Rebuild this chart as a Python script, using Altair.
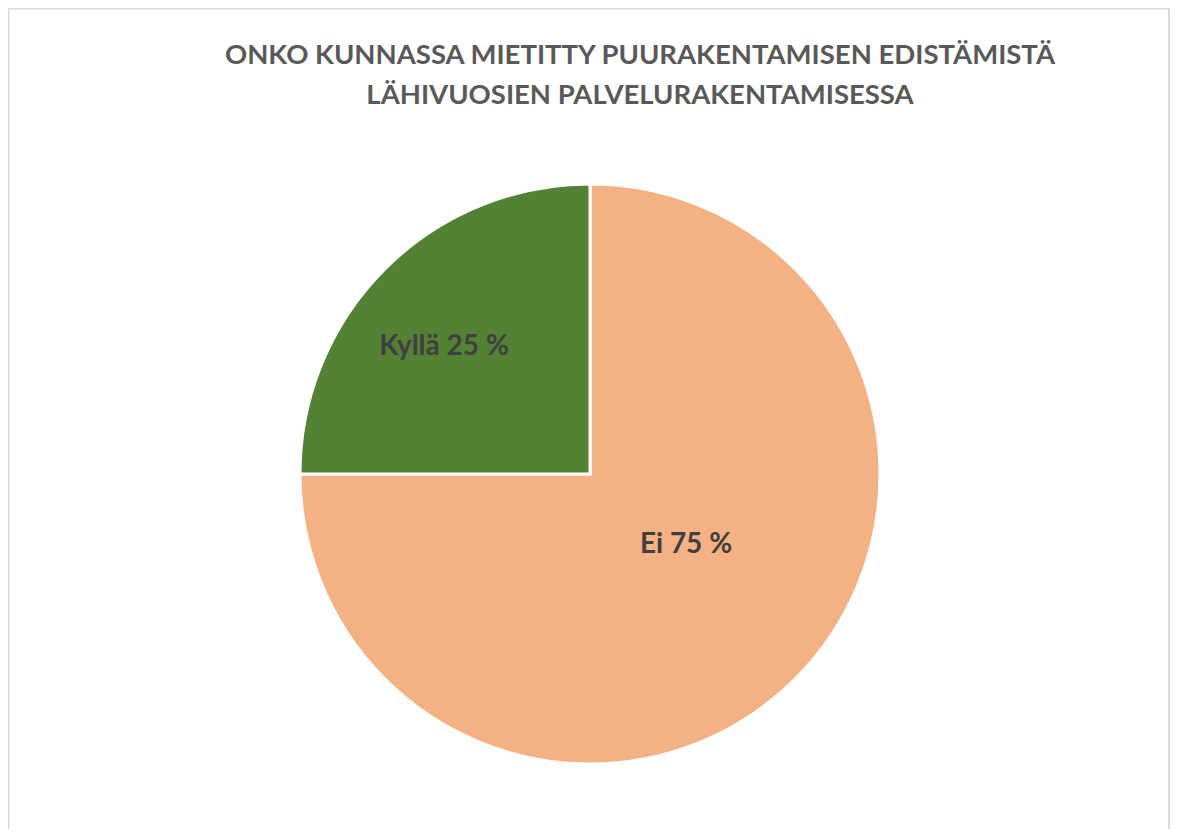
import altair as alt
import pandas as pd

categories = ["Ei", "Kyllä"]
values = [75, 25]
labels = ["Ei 75 %", "Kyllä 25 %"]
colors = ["#F4B183", "#548235"]
title_lines = ["ONKO KUNNASSA MIETITTY PUURAKENTAMISEN  EDISTÄMISTÄ",
               "LÄHIVUOSIEN PALVELURAKENTAMISESSA"]

df = pd.DataFrame({"cat": categories, "val": values, "order": [0, 1]})

W, H = 1162, 821
CX, CY, R = 582, 466, 290

pie = alt.Chart(df).mark_arc(radius=R, stroke="white", strokeWidth=3).encode(
    theta=alt.Theta("val:Q", stack=True),
    order=alt.Order("order:Q"),
    color=alt.Color("cat:N", scale=alt.Scale(domain=categories, range=colors), legend=None),
    x=alt.value(CX), y=alt.value(CY),
)

lab_df = pd.DataFrame({"label": labels, "px": [678, 436], "py": [545, 347]})
lab = alt.Chart(lab_df).mark_text(font="Lato", fontWeight="bold", fontSize=28,
                                  color="#404040", baseline="alphabetic", align="center").encode(
    text="label:N",
    x=alt.X("px:Q", scale=None), y=alt.Y("py:Q", scale=None),
)

t_df = pd.DataFrame({"t": title_lines, "px": [632, 632], "py": [56, 96]})
title = alt.Chart(t_df).mark_text(font="Lato", fontWeight="bold", fontSize=27.5,
                                  color="#595959", baseline="alphabetic", align="center").encode(
    text="t:N",
    x=alt.X("px:Q", scale=None), y=alt.Y("py:Q", scale=None),
)

frame_df = pd.DataFrame({"x1": [0.5, 0.5, 1161], "x2": [0.5, 1161, 1161],
                         "y1": [0.5, 0.5, 0.5], "y2": [821, 0.5, 821]})
frame = alt.Chart(frame_df).mark_rule(color="#D9D9D9", strokeWidth=2).encode(
    x=alt.X("x1:Q", scale=None), x2="x2:Q",
    y=alt.Y("y1:Q", scale=None), y2="y2:Q",
)

chart = alt.layer(frame, pie, lab, title).properties(
    width=W, height=H, padding=0,
    autosize=alt.AutoSizeParams(type="none"),
).configure_view(stroke=None)

chart.save("out.html", embed_options={"renderer": "svg", "actions": False})
